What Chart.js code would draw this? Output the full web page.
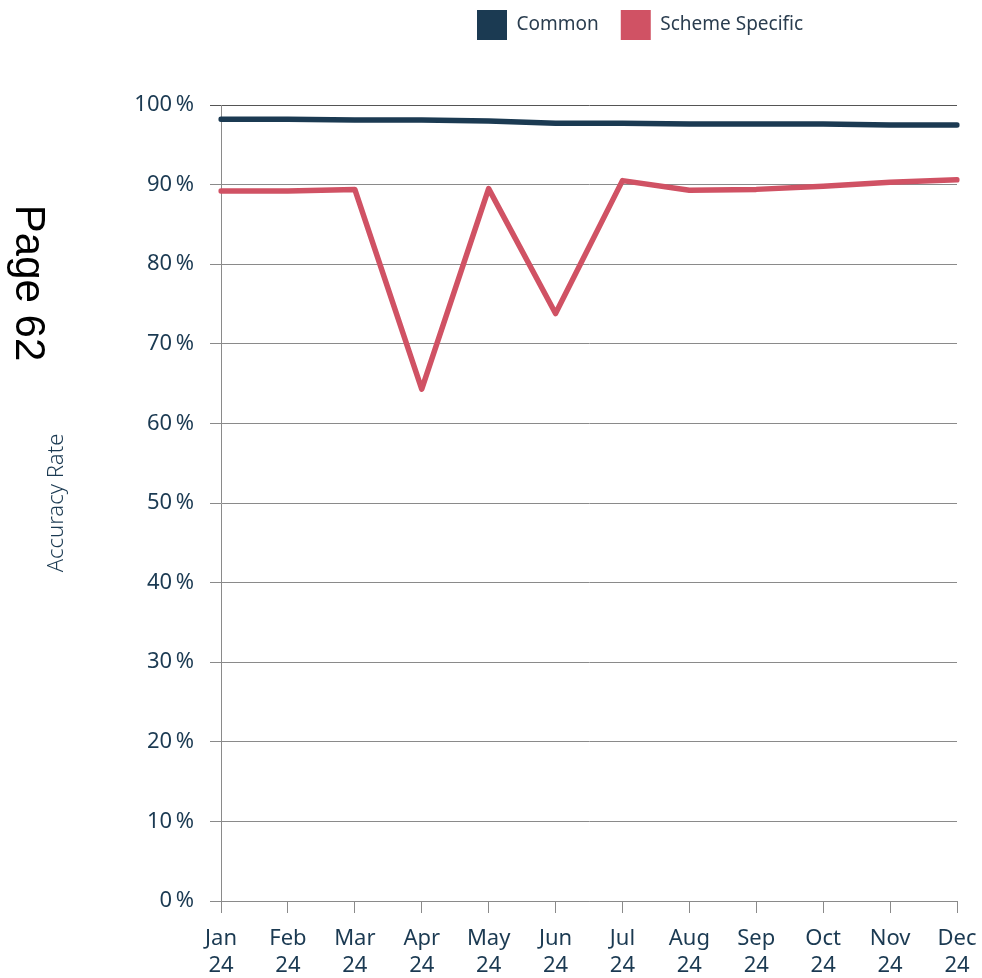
<!DOCTYPE html>
<html>
<head>
<meta charset="utf-8">
<script src="https://cdn.jsdelivr.net/npm/chart.js@4.4.1/dist/chart.umd.min.js"></script>
<style>
  html, body { margin: 0; padding: 0; background: #fff; }
  canvas { display: block; }
</style>
</head>
<body>
<canvas id="myChart" width="982" height="978"></canvas>
<script>
// data
const meses = ['Jan', 'Feb', 'Mar', 'Apr', 'May', 'Jun', 'Jul', 'Aug', 'Sep', 'Oct', 'Nov', 'Dec'];
const anio = '24';
const common = [98.2, 98.2, 98.1, 98.1, 98.0, 97.7, 97.7, 97.6, 97.6, 97.6, 97.5, 97.5];
const schemeSpecific = [89.2, 89.2, 89.4, 64.3, 89.5, 73.8, 90.5, 89.3, 89.4, 89.8, 90.3, 90.6];
const yTicks = [0, 10, 20, 30, 40, 50, 60, 70, 80, 90, 100];

const navy = '#1b3a52';
const rojo = '#d05264';
const fuente = '"Noto Sans", "Open Sans", sans-serif';

const etiquetas = meses.map(m => [m, anio]);

// "Page 62" stamp on the left margin
const pageLabel = {
  id: 'pageLabel',
  afterDraw(chart) {
    const ctx = chart.ctx;
    ctx.save();
    ctx.translate(16, 283);
    ctx.rotate(Math.PI / 2);
    ctx.font = '42px "Liberation Sans", Arial, sans-serif';
    ctx.fillStyle = '#000';
    ctx.textAlign = 'center';
    ctx.textBaseline = 'alphabetic';
    ctx.fillText('Page 62', 0, 0);
    ctx.restore();
  }
};

// move the legend where the reference has it
const legendPos = {
  id: 'legendPos',
  afterLayout(chart) {
    const lg = chart.legend;
    const pad = chart.options.plugins.legend.labels.padding;
    const h = lg.bottom - lg.top;
    lg.left = 477 - pad;
    lg.right = 982;
    lg.top = 10 - pad;
    lg.bottom = lg.top + h;
  }
};

const ctx = document.getElementById('myChart').getContext('2d');
const myChart = new Chart(ctx, {
  type: 'line',
  data: {
    labels: etiquetas,
    datasets: [{
      label: 'Common',
      data: common,
      borderColor: navy,
      backgroundColor: navy,
      borderWidth: 5.5
    }, {
      label: 'Scheme Specific',
      data: schemeSpecific,
      borderColor: rojo,
      backgroundColor: rojo,
      borderWidth: 5.5
    }]
  },
  options: {
    responsive: false,
    animation: false,
    layout: { padding: { left: 44, right: 25, top: 43, bottom: 0 } },
    elements: {
      line: { tension: 0, borderCapStyle: 'round', borderJoinStyle: 'round', fill: false },
      point: { radius: 0, hoverRadius: 0 }
    },
    plugins: {
      tooltip: { enabled: false },
      legend: {
        position: 'top',
        align: 'start',
        labels: {
          boxWidth: 30,
          boxHeight: 30,
          padding: 22,
          color: '#2a3d4f',
          font: { family: fuente, size: 19 },
          generateLabels(chart) {
            const items = Chart.defaults.plugins.legend.labels.generateLabels(chart);
            items.forEach(it => { it.lineWidth = 0; });
            return items;
          }
        }
      }
    },
    scales: {
      x: {
        offset: false,
        afterFit(scale) {
          scale.height = 77;
          scale.paddingLeft = 0;
          scale.paddingRight = 0;
        },
        grid: { display: true, drawOnChartArea: false, drawTicks: true, tickLength: 12, color: '#8a8a8a' },
        border: { display: true, color: '#8a8a8a' },
        ticks: {
          autoSkip: false,
          maxRotation: 0,
          padding: 13,
          color: navy,
          font: { family: fuente, size: 22, lineHeight: 1.2 }
        }
      },
      y: {
        min: 0,
        max: 100,
        afterFit(scale) { scale.width = 221 - 44; },
        afterBuildTicks(scale) { scale.ticks = yTicks.map(v => ({ value: v })); },
        grid: {
          drawTicks: true,
          tickLength: 11,
          color: c => (c.tick && c.tick.value === 100 ? '#555' : '#8a8a8a')
        },
        border: { display: true, color: '#8a8a8a' },
        ticks: {
          padding: 16,
          color: navy,
          font: { family: fuente, size: 22 },
          callback: v => v + '\u2009%'
        },
        title: {
          display: true,
          text: 'Accuracy Rate',
          color: navy,
          padding: 0,
          font: { family: fuente, size: 22, weight: '300' }
        }
      }
    }
  },
  plugins: [pageLabel, legendPos]
});
</script>
</body>
</html>
